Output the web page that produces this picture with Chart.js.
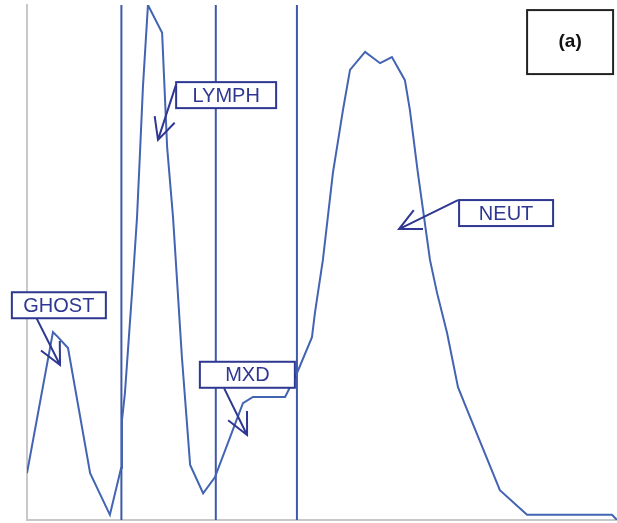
<!DOCTYPE html>
<html>
<head>
<meta charset="utf-8">
<script src="https://cdn.jsdelivr.net/npm/chart.js@4"></script>
<style>
  html, body { margin: 0; padding: 0; background: #ffffff; }
  #wrap { width: 617px; height: 523px; position: relative; }
</style>
</head>
<body>
<div id="wrap"><canvas id="histo"></canvas></div>
<script>
// Histogram: channel (x) and relative count (y)
const channels = [0, 8.8, 10.5, 13.9, 21.4, 28.1, 31.9, 32.2, 33.2, 35.6, 37.3, 38.3, 39.3, 41.0,
  45.8, 47.5, 49.5, 52.5, 55.3, 59.7, 63.7, 73.2, 76.6, 87.5, 91.5, 96.6, 97.6, 100.3, 103.7,
  107.1, 109.5, 114.6, 119.7, 123.7, 128.1, 129.8, 132.5, 136.6, 139.0, 142.4, 146.1, 149.2,
  160.3, 169.5, 198.3, 200];
const counts = [9.1, 36.5, 35.5, 33.4, 9.1, 1.0, 10.1, 19.4, 24.7, 44.1, 58.8, 71.3, 84.1, 100,
  94.6, 72.4, 58.8, 31.7, 10.7, 5.2, 8.3, 22.7, 23.9, 23.9, 28.5, 35.5, 40.2, 50.5, 67.4,
  79.6, 87.4, 90.9, 88.7, 89.9, 85.4, 79.6, 67.4, 50.5, 44.1, 36.3, 25.8, 21.4,
  5.8, 1.0, 1.0, 0];

// Discriminator lines between populations
const thresholds = [32, 64, 91.5];

// Population labels
const labels = ["GHOST", "LYMPH", "MXD", "NEUT"];
const panelLabel = "(a)";

const navy = "#2e3792";
const curveBlue = "#4264b2";
const lineBlue = "#3d59a8";

// label boxes: centre, tail and tip given in data units, sizes in px
const annotations = [
  { text: labels[0], cx: 10.8, cy: 41.7, w: 94, h: 26, tail: [3.05, 39.4], tip: [11.2, 30.1] },
  { text: labels[1], cx: 67.5, cy: 82.5, w: 100, h: 26, tail: [50.5, 84.5], tip: [44.4, 73.8] },
  { text: labels[2], cx: 74.7, cy: 28.2, w: 95, h: 26, tail: [66.8, 25.6], tip: [74.6, 16.5] },
  { text: labels[3], cx: 162.4, cy: 59.6, w: 94, h: 26, tail: [146.1, 62.1], tip: [126.1, 56.5] }
];

const histPoints = channels.map((c, i) => ({ x: c, y: counts[i] }));

const lineSets = thresholds.map(t => ({
  data: [{ x: t, y: 0 }, { x: t, y: 100 }],
  borderColor: lineBlue,
  borderWidth: 2,
  pointRadius: 0,
  fill: false
}));

// draws the label boxes, arrows and the panel tag
const labelPlugin = {
  id: "labelPlugin",
  afterDatasetsDraw(chart) {
    const ctx = chart.ctx;
    const xs = chart.scales.x, ys = chart.scales.y;
    ctx.save();
    ctx.lineWidth = 2;
    ctx.strokeStyle = navy;
    ctx.fillStyle = navy;

    annotations.forEach(a => {
      const tx = xs.getPixelForValue(a.tail[0]), ty = ys.getPixelForValue(a.tail[1]);
      const px = xs.getPixelForValue(a.tip[0]), py = ys.getPixelForValue(a.tip[1]);
      // shaft
      ctx.beginPath();
      ctx.moveTo(tx, ty);
      ctx.lineTo(px, py);
      // head
      const ang = Math.atan2(ty - py, tx - px);
      const len = 24, spread = 26 * Math.PI / 180;
      ctx.moveTo(px + len * Math.cos(ang - spread), py + len * Math.sin(ang - spread));
      ctx.lineTo(px, py);
      ctx.lineTo(px + len * Math.cos(ang + spread), py + len * Math.sin(ang + spread));
      ctx.stroke();

      // box
      const cx = xs.getPixelForValue(a.cx), cy = ys.getPixelForValue(a.cy);
      ctx.fillStyle = "#ffffff";
      ctx.fillRect(cx - a.w / 2, cy - a.h / 2, a.w, a.h);
      ctx.strokeRect(cx - a.w / 2, cy - a.h / 2, a.w, a.h);
      ctx.fillStyle = navy;
      ctx.font = "20px 'Liberation Sans', Arial, sans-serif";
      ctx.textAlign = "center";
      ctx.textBaseline = "middle";
      ctx.fillText(a.text, cx, cy + 1);
    });

    // panel tag
    const bx = xs.getPixelForValue(184.1), by = ys.getPixelForValue(92.8);
    ctx.strokeStyle = "#222222";
    ctx.strokeRect(bx - 43, by - 32, 86, 64);
    ctx.fillStyle = "#111111";
    ctx.font = "bold 19px 'Liberation Sans', Arial, sans-serif";
    ctx.fillText(panelLabel, bx, by);
    ctx.restore();
  }
};

new Chart(document.getElementById("histo"), {
  type: "line",
  data: {
    datasets: [
      {
        data: histPoints,
        borderColor: curveBlue,
        borderWidth: 2,
        pointRadius: 0,
        tension: 0,
        fill: false
      },
      ...lineSets
    ]
  },
  options: {
    responsive: true,
    maintainAspectRatio: false,
    animation: false,
    layout: { padding: { left: 27, top: 5, right: 0, bottom: 3 } },
    plugins: { legend: { display: false }, tooltip: { enabled: false } },
    scales: {
      x: {
        type: "linear",
        min: 0,
        max: 200,
        grid: { display: false },
        ticks: { display: false },
        border: { display: true, color: "#c8c8c8", width: 2 },
        afterFit(scale) { scale.height = 0; }
      },
      y: {
        min: 0,
        max: 100,
        grid: { display: false },
        ticks: { display: false },
        border: { display: true, color: "#c8c8c8", width: 2 },
        afterFit(scale) { scale.width = 0; }
      }
    }
  },
  plugins: [labelPlugin]
});
</script>
</body>
</html>
